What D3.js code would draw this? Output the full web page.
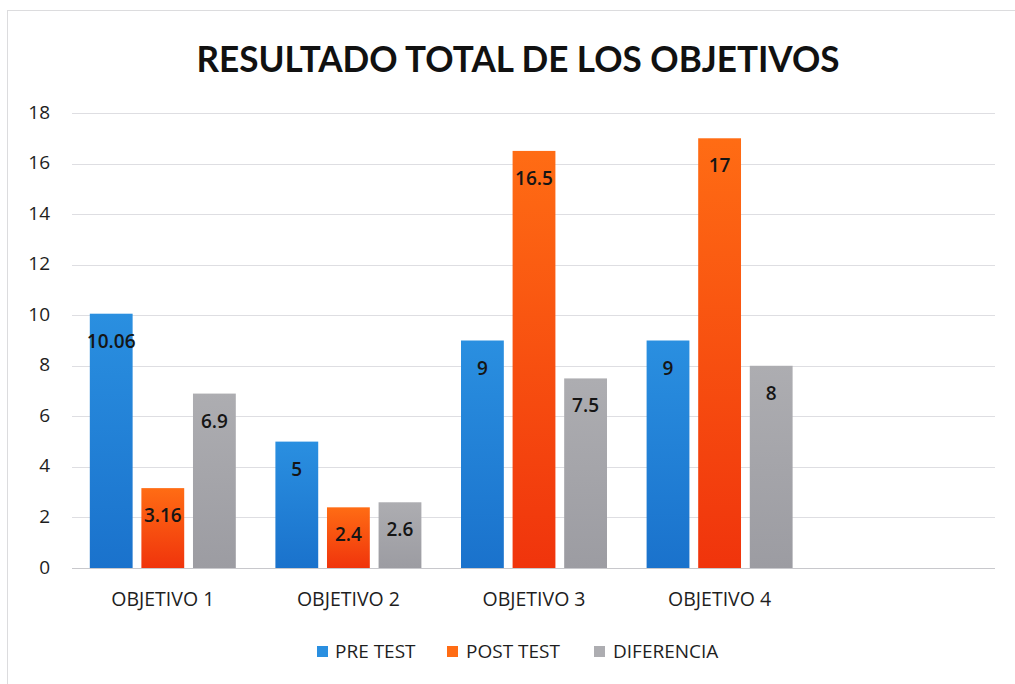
<!DOCTYPE html>
<html>
<head>
<meta charset="utf-8">
<script src="https://cdn.jsdelivr.net/npm/d3@7"></script>
<style>
  html, body { margin: 0; padding: 0; background: #ffffff; }
  svg { display: block; font-family: "Open Sans", Lato, sans-serif; }
</style>
</head>
<body>
<svg id="chart" width="1015" height="684"></svg>
<script>
// Chart data
const categories = ["OBJETIVO 1", "OBJETIVO 2", "OBJETIVO 3", "OBJETIVO 4", ""];
const seriesNames = ["PRE TEST", "POST TEST", "DIFERENCIA"];
const preTest = [10.06, 5, 9, 9];
const postTest = [3.16, 2.4, 16.5, 17];
const diferencia = [6.9, 2.6, 7.5, 8];
const yTicks = [0, 2, 4, 6, 8, 10, 12, 14, 16, 18];
const chartTitle = "RESULTADO TOTAL DE LOS OBJETIVOS";

const seriesValues = [preTest, postTest, diferencia];
const colorsTop = ["#2a8fe0", "#ff6c14", "#adadb1"];
const colorsBottom = ["#1a72cc", "#f0340c", "#9c9ca2"];
const bodyFont = "'Open Sans', Lato, sans-serif";

const svg = d3.select("#chart");

// Chart frame
svg.append("rect")
  .attr("x", 7.5).attr("y", 10.5)
  .attr("width", 1100).attr("height", 700)
  .attr("fill", "#ffffff")
  .attr("stroke", "#dcdcde").attr("stroke-width", 1);

const defs = svg.append("defs");
seriesNames.forEach((s, i) => {
  const g = defs.append("linearGradient")
    .attr("id", "grad" + i)
    .attr("x1", 0).attr("y1", 0).attr("x2", 0).attr("y2", 1);
  g.append("stop").attr("offset", "0%").attr("stop-color", colorsTop[i]);
  g.append("stop").attr("offset", "100%").attr("stop-color", colorsBottom[i]);
});

const x = d3.scaleBand().domain(categories).range([70, 998]).paddingInner(0).paddingOuter(0);
const y = d3.scaleLinear().domain([0, 18]).range([568, 113]);

const groupWidth = 146;
const xSub = d3.scaleBand()
  .domain(seriesNames)
  .range([(x.bandwidth() - groupWidth) / 2, (x.bandwidth() + groupWidth) / 2])
  .paddingInner(0.17).paddingOuter(0);

// Title
svg.append("text")
  .attr("x", 518).attr("y", 72)
  .attr("text-anchor", "middle")
  .attr("font-family", "Lato, 'Open Sans', sans-serif")
  .attr("font-size", 36).attr("font-weight", 700)
  .attr("fill", "#111111")
  .attr("textLength", 643).attr("lengthAdjust", "spacingAndGlyphs")
  .text(chartTitle);

// Gridlines
svg.append("g")
  .selectAll("line")
  .data(yTicks)
  .join("line")
  .attr("x1", 72).attr("x2", 995)
  .attr("y1", d => Math.round(y(d)) + 0.5).attr("y2", d => Math.round(y(d)) + 0.5)
  .attr("stroke", d => d === 0 ? "#c8c8cc" : "#dedee2")
  .attr("stroke-width", 1);

// Y axis labels
const yAxis = d3.axisLeft(y).tickValues(yTicks).tickSize(0).tickPadding(0);
const yG = svg.append("g").attr("transform", "translate(50,-1)").call(yAxis);
yG.select(".domain").remove();
yG.selectAll("text")
  .attr("font-size", 19).attr("fill", "#1e1e1e")
  .attr("font-family", bodyFont);

// X axis labels
const xAxis = d3.axisBottom(x).tickSize(0).tickPadding(0);
const xG = svg.append("g").attr("transform", "translate(0,592)").call(xAxis);
xG.select(".domain").remove();
xG.selectAll("text")
  .attr("font-size", 19.5).attr("fill", "#1e1e1e")
  .attr("font-family", bodyFont);

// Bars
const groups = svg.append("g")
  .selectAll("g")
  .data(categories.slice(0, preTest.length))
  .join("g")
  .attr("transform", d => `translate(${x(d)},0)`);

groups.each(function(cat, ci) {
  const g = d3.select(this);
  seriesNames.forEach((s, si) => {
    const v = seriesValues[si][ci];
    g.append("rect")
      .attr("x", xSub(s))
      .attr("y", y(v))
      .attr("width", xSub.bandwidth())
      .attr("height", y(0) - y(v))
      .attr("fill", `url(#grad${si})`);
    g.append("text")
      .attr("x", xSub(s) + xSub.bandwidth() / 2)
      .attr("y", y(v) + 34)
      .attr("text-anchor", "middle")
      .attr("font-size", 19)
      .attr("font-weight", 600)
      .attr("fill", "#151515")
      .text(v);
  });
});

// Legend
const legendItems = [
  { name: seriesNames[0], sq: 317, tx: 335 },
  { name: seriesNames[1], sq: 447, tx: 466 },
  { name: seriesNames[2], sq: 594, tx: 613 }
];
const legend = svg.append("g");
legendItems.forEach((d, i) => {
  legend.append("rect")
    .attr("x", d.sq).attr("y", 646)
    .attr("width", 11).attr("height", 11)
    .attr("fill", colorsTop[i]);
  legend.append("text")
    .attr("x", d.tx).attr("y", 658)
    .attr("font-size", 19).attr("fill", "#1e1e1e")
    .text(d.name);
});
</script>
</body>
</html>
